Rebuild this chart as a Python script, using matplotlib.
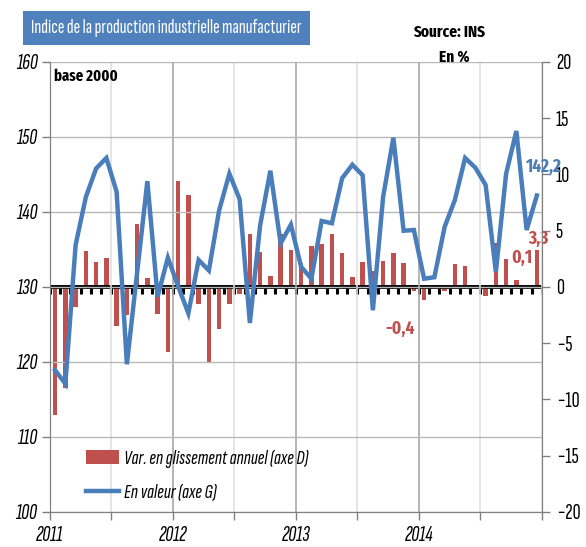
"""
Indice de la production industrielle manufacturier (base 2000), 2011-2014.
Line = index level (left axis), bars = year-on-year change in % (right axis).
"""

import matplotlib

matplotlib.use("Agg")
import matplotlib.pyplot as plt
from matplotlib import font_manager as fm
from matplotlib.patches import Patch
from matplotlib.lines import Line2D
import numpy as np

# monthly data, Jan 2011 .. Dec 2014
indice = [118.9, 117.1, 135.6, 142.0, 145.8, 147.2, 142.7, 119.7, 131.9, 144.1, 128.7, 133.9,
          130.1, 126.5, 133.6, 132.2, 140.2, 145.1, 141.7, 125.2, 138.2, 145.5, 135.8, 138.3,
          132.7, 131.1, 138.8, 138.5, 144.5, 146.3, 144.9, 126.9, 142.0, 149.9, 137.5, 137.6,
          131.1, 131.3, 138.0, 141.6, 147.2, 145.9, 143.6, 132.0, 145.1, 150.8, 137.6, 142.2]
glissement = [-11.4, -9.0, -1.8, 3.2, 2.2, 2.6, -3.5, -2.5, 5.6, 0.8, -2.4, -5.8,
              9.4, 8.2, -1.5, -6.8, -3.7, -1.5, -0.6, 4.7, 3.1, 0.95, 4.7, 3.3,
              2.1, 3.6, 3.8, 4.7, 3.0, 0.9, 2.2, 1.4, 2.3, 3.0, 2.1, -0.4,
              -1.2, 0.0, -0.4, 2.0, 1.9, -0.1, -0.8, 3.9, 2.5, 0.6, 0.0, 3.3]
years = ["2011", "2012", "2013", "2014"]

BLUE = "#4a7ebb"
RED = "#c0504d"

# original is Arial Narrow, squeezed; use extra condensed faces that are installed
installed = {f.name for f in fm.fontManager.ttflist}
def pick(names):
    return [n for n in names if n in installed][:1] + ["DejaVu Sans"]

REG = pick(["Sofia Sans Extra Condensed", "Saira ExtraCondensed", "Archivo Narrow"])
BOLD = pick(["Fira Sans Extra Condensed", "PT Sans Narrow", "Roboto Condensed"])
plt.rcParams["font.family"] = REG

months = np.arange(len(indice)) + 0.5

fig = plt.figure(figsize=(5.86, 5.47), dpi=100)
ax = fig.add_axes([0.0853, 0.064, 0.8396, 0.8227])
ax2 = ax.twinx()
ax.set_zorder(ax2.get_zorder() + 1)
ax.patch.set_visible(False)

# bars, right axis
ax2.bar(months, glissement, width=0.45, color=RED, zorder=2)
ax2.set_ylim(-20, 20)
ax2.set_yticks(range(-20, 21, 5))
ax2.tick_params(axis="y", direction="out", length=6, width=1, color="#808080",
                labelsize=16, pad=4)

# zero line with a tick mark at every month boundary
ax2.axhline(0, color="black", linewidth=2.8, zorder=3)
ax2.vlines(np.arange(0, len(indice) + 1), -0.6, 0, color="black", linewidth=2.2, zorder=3)

# line, left axis
ax.plot(months, indice, color=BLUE, linewidth=3.2, solid_joinstyle="miter", zorder=3)
ax.set_ylim(100, 160)
ax.set_xlim(0, 48)
ax.set_yticks(range(100, 161, 10))
for lab in ax.get_yticklabels():
    lab.set_fontstyle("italic")
ax.tick_params(axis="y", direction="out", length=6, width=1, color="#808080",
               labelsize=16, pad=3)

# x axis: year labels, ticks every half year
ax.set_xticks([0, 12, 24, 36])
ax.set_xticklabels(years, fontstyle="italic", fontsize=16)
ax.set_xticks([6, 18, 30, 42, 48], minor=True)
ax.tick_params(axis="x", which="both", direction="out", length=6, width=1,
               color="#808080", pad=4)

# grid
ax.grid(axis="y", color="#b8b8b8", linewidth=1)
ax.grid(axis="x", which="major", color="#a8a8a8", linewidth=1.2)
ax.grid(axis="x", which="minor", color="#e0e0e0", linewidth=1.2)
for a in (ax, ax2):
    for s in a.spines.values():
        s.set_color("#808080")
    a.spines["top"].set_visible(False)

# data labels
lab_kw = dict(family=BOLD, fontsize=13.5, fontweight="bold", ha="center", va="center")
ax.text(months[-1] + 0.6, indice[-1] + 3.8, "142,2", color=BLUE, **lab_kw)
ax2.text(months[-1] + 0.2, glissement[-1] + 1.0, "3,3", color=RED, **lab_kw)
ax2.text(months[-3] + 0.5, glissement[-3] + 2.0, "0,1", color=RED, **lab_kw)
ax2.text(months[35] - 1.4, -3.75, "-0,4", color=RED, **lab_kw)

ax.text(0.008, 0.985, "base 2000", transform=ax.transAxes, family=BOLD, fontsize=11.5,
        fontweight="bold", ha="left", va="top")

handles = [Patch(facecolor=RED, edgecolor="none"),
           Line2D([], [], color=BLUE, linewidth=3.2)]
labels = ["Var. en glissement annuel (axe D)", "En valeur (axe G)"]
ax.legend(handles, labels, loc="upper left", bbox_to_anchor=(0.035, 0.18),
          frameon=False, prop={"style": "italic", "size": 15},
          handlelength=1.6, handletextpad=0.25, labelspacing=0.75)

# header
fig.text(0.053, 0.949, "Indice de la production industrielle manufacturier",
         color="white", fontsize=14.5, va="center", ha="left",
         bbox=dict(facecolor="#4f81bd", edgecolor="none", boxstyle="square,pad=0.4"))
fig.text(0.828, 0.94, "Source: INS", family=BOLD, fontsize=12, fontweight="bold",
         ha="right", va="center")
fig.text(0.802, 0.896, "En %", family=BOLD, fontsize=12, fontweight="bold",
         ha="right", va="center")

fig.savefig("out.png", dpi=100)
